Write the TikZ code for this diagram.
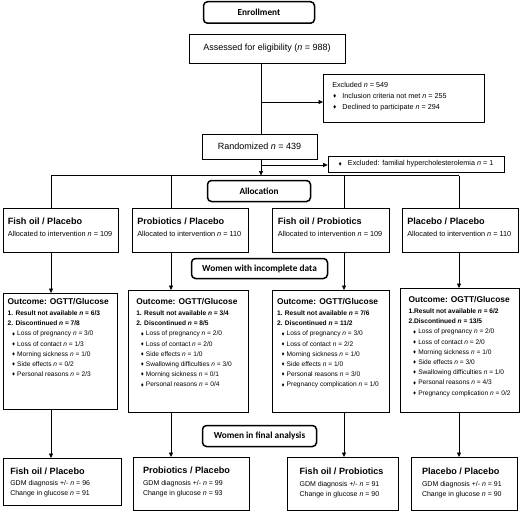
\documentclass[tikz,border=0pt]{standalone}
\usepackage{amssymb}
\usepackage{graphicx}
\usepackage{fontspec}
\setmainfont{Liberation Sans}
\newfontfamily\headfont{Carlito}
\usetikzlibrary{%
	arrows.meta,%
	positioning,%
}
\tikzset{
	>={Triangle[length=4.5pt,width=4pt]},%
	headnode/.style={%
			draw,%
			rectangle,%
			rounded corners=4pt,%
			line width=1.5pt,%
			inner sep=0pt,%
			font={\headfont\bfseries\fontsize{9.3}{11}\selectfont}},%
	plainnode/.style={%
			draw,%
			rectangle,%
			line width=0.6pt,%
			inner sep=0pt,%
			font={\fontsize{9}{11}\selectfont}},%
	cellnode/.style={%
			draw,%
			rectangle,%
			line width=0.6pt,%
			anchor=north west,%
			inner ysep=0pt},%
	groupnode/.style={%
			cellnode,%
			font={\fontsize{7.3}{10.2}\selectfont}},%
	outcomenode/.style={%
			cellnode,%
			font={\fontsize{6.6}{10.2}\selectfont}},%
	finalnode/.style={%
			cellnode,%
			font={\fontsize{7}{10}\selectfont}},%
	flow/.style={line width=0.6pt},%
}
\newcommand{\nval}[1]{\textit{n} = #1}
\newcommand{\dia}{\raisebox{0.2ex}{\scalebox{0.6}{$\blacklozenge$}}}
\newcommand{\itm}{\hspace*{4.6pt}\dia\hspace{2pt}}
\newcommand{\colhead}[2][8.4]{{\fontsize{#1}{10.2}\selectfont\bfseries #2}}
\newcommand{\cellbox}[4]{\parbox[t][#2pt][t]{#1pt}{\raggedright\vspace*{#3pt}#4}}

\begin{document}
\begin{tikzpicture}[x=1pt, y=-1pt]%
	\useasboundingbox (0,0) rectangle (520,511);

	\node[headnode, minimum width=111pt, minimum height=21.5pt] (enr) at (259,12.5) {Enrollment};
	\node[plainnode, minimum width=156pt, minimum height=29pt] (elig) at (267,48.5) {Assessed for eligibility (\nval{988})};
	\node[cellnode, inner xsep=9pt, font={\fontsize{7.2}{11}\selectfont}] (excl) at (323,74) {\cellbox{143}{48}{8}{%
			Excluded \nval{549}\\
			\hspace*{0.8pt}\dia\hspace{6pt}Inclusion criteria not met \nval{255}\\
			\hspace*{0.8pt}\dia\hspace{6pt}Declined to participate \nval{294}}};
	\node[plainnode, minimum width=115pt, minimum height=25pt] (rand) at (259.5,146.5) {Randomized \nval{439}};
	\node[plainnode, minimum width=176pt, minimum height=16pt, font={\fontsize{7.2}{9}\selectfont}] (exclb) at (416,164) {\dia\hspace{6pt}Excluded: familial hypercholesterolemia \nval{1}};

	\node[headnode, minimum width=103pt, minimum height=21pt] (alloc) at (259,191) {Allocation};
	\node[groupnode, inner xsep=4.5pt] (ga) at (3,208) {\cellbox{106}{44}{10}{\colhead[9.1]{Fish oil / Placebo}\\[1pt] Allocated to intervention \nval{109}}};
	\node[groupnode, inner xsep=5pt] (gb) at (132,208) {\cellbox{106}{44}{10}{\colhead[9.1]{Probiotics / Placebo}\\[1pt] Allocated to intervention \nval{110}}};
	\node[groupnode, inner xsep=5.5pt] (gc) at (272,208) {\cellbox{106}{44}{10}{\colhead[9.1]{Fish oil / Probiotics}\\[1pt] Allocated to intervention \nval{109}}};
	\node[groupnode, inner xsep=5pt] (gd) at (402,208) {\cellbox{106}{44}{10}{\colhead[9.1]{Placebo / Placebo}\\[1pt] Allocated to intervention \nval{110}}};

	\node[headnode, minimum width=136pt, minimum height=20pt] (incompl) at (259.5,268.5) {Women with incomplete data};
	\node[outcomenode, inner xsep=4.3pt] (oa) at (3,293) {\cellbox{105.4}{116}{5}{%
			\colhead{Outcome: OGTT/Glucose}\\[0.9pt]
			\textbf{1. Result not available \nval{6/3}}\\
			\textbf{2. Discontinued \nval{7/8}}\\
			\itm Loss of pregnancy \nval{3/0}\\
			\itm Loss of contact \nval{1/3}\\
			\itm Morning sickness \nval{1/0}\\
			\itm Side effects \nval{0/2}\\
			\itm Personal reasons \nval{2/3}}};
	\node[outcomenode, inner xsep=8pt] (ob) at (128,290) {\cellbox{104}{122}{8}{%
			\colhead{Outcome: OGTT/Glucose}\\[0.9pt]
			\textbf{1. Result not available \nval{3/4}}\\
			\textbf{2. Discontinued \nval{8/5}}\\
			\itm Loss of pregnancy \nval{2/0}\\
			\itm Loss of contact \nval{2/0}\\
			\itm Side effects \nval{1/0}\\
			\itm Swallowing difficulties \nval{3/0}\\
			\itm Morning sickness \nval{0/1}\\
			\itm Personal reasons \nval{0/4}}};
	\node[outcomenode, inner xsep=4.7pt] (oc) at (272,290) {\cellbox{107.6}{122}{8}{%
			\colhead{Outcome: OGTT/Glucose}\\[0.9pt]
			\textbf{1. Result not available \nval{7/6}}\\
			\textbf{2. Discontinued \nval{11/2}}\\
			\itm Loss of pregnancy \nval{3/0}\\
			\itm Loss of contact \nval{2/2}\\
			\itm Morning sickness \nval{1/0}\\
			\itm Side effects \nval{1/0}\\
			\itm Personal reasons \nval{3/0}\\
			\itm Pregnancy complication \nval{1/0}}};
	\node[outcomenode, inner xsep=8.3pt] (od) at (400,288) {\cellbox{102.4}{124}{8}{%
			\colhead{Outcome: OGTT/Glucose}\\[0.9pt]
			\textbf{1.Result not available \nval{6/2}}\\
			\textbf{2.Discontinued \nval{13/5}}\\
			\itm Loss of pregnancy \nval{2/0}\\
			\itm Loss of contact \nval{2/0}\\
			\itm Morning sickness \nval{1/0}\\
			\itm Side effects \nval{3/0}\\
			\itm Swallowing difficulties \nval{1/0}\\
			\itm Personal reasons \nval{4/3}\\
			\itm Pregnancy complication \nval{0/2}}};

	\node[headnode, minimum width=114pt, minimum height=21pt] (final) at (259.5,436) {Women in final analysis};
	\node[finalnode, inner xsep=7pt] (fa) at (3,458) {\cellbox{104}{47}{9.3}{\colhead[9.1]{Fish oil / Placebo}\\[1.2pt] GDM diagnosis +/- \nval{96}\\ Change in glucose \nval{91}}};
	\node[finalnode, inner xsep=9.7pt] (fb) at (133,457) {\cellbox{96.6}{53}{10}{\colhead[9.1]{Probiotics / Placebo}\\[1.2pt] GDM diagnosis +/- \nval{99}\\ Change in glucose \nval{93}}};
	\node[finalnode, inner xsep=12.3pt] (fc) at (287,457) {\cellbox{86.4}{53}{11}{\colhead[9.1]{Fish oil / Probiotics}\\[1.2pt] GDM diagnosis +/- \nval{91}\\ Change in glucose \nval{90}}};
	\node[finalnode, inner xsep=10.7pt] (fd) at (411,457) {\cellbox{84.6}{53}{11}{\colhead[9.1]{Placebo / Placebo}\\[1.2pt] GDM diagnosis +/- \nval{91}\\ Change in glucose \nval{90}}};

	\coordinate (sp1) at (261,102);
	\coordinate (sp2) at (261,165);
	\coordinate (split) at (261,175.5);
	\coordinate (ca) at (51,175.5);
	\coordinate (cb) at (171,175.5);
	\coordinate (cc) at (344,175.5);
	\coordinate (cd) at (459,175.5);

	\draw[flow] (elig.south -| sp1) -- (rand.north -| sp1);
	\draw[flow, ->] (sp1) -- (sp1 -| excl.west);
	\draw[flow, ->] (rand.south -| split) -- (split);
	\draw[flow, ->] (sp2) -- (sp2 -| exclb.west);
	\draw[flow] (ca) -- (cd);
	\foreach \cx/\gx/\ox/\fx in {ca/ga/oa/fa, cb/gb/ob/fb, cc/gc/oc/fc, cd/gd/od/fd} {
		\draw[flow] (\cx) -- (\cx |- \gx.north);
		\draw[flow, ->] (\cx |- \gx.south) -- (\cx |- \ox.north);
		\draw[flow, ->] (\cx |- \ox.south) -- (\cx |- \fx.north);
	}
\end{tikzpicture}
\end{document}
